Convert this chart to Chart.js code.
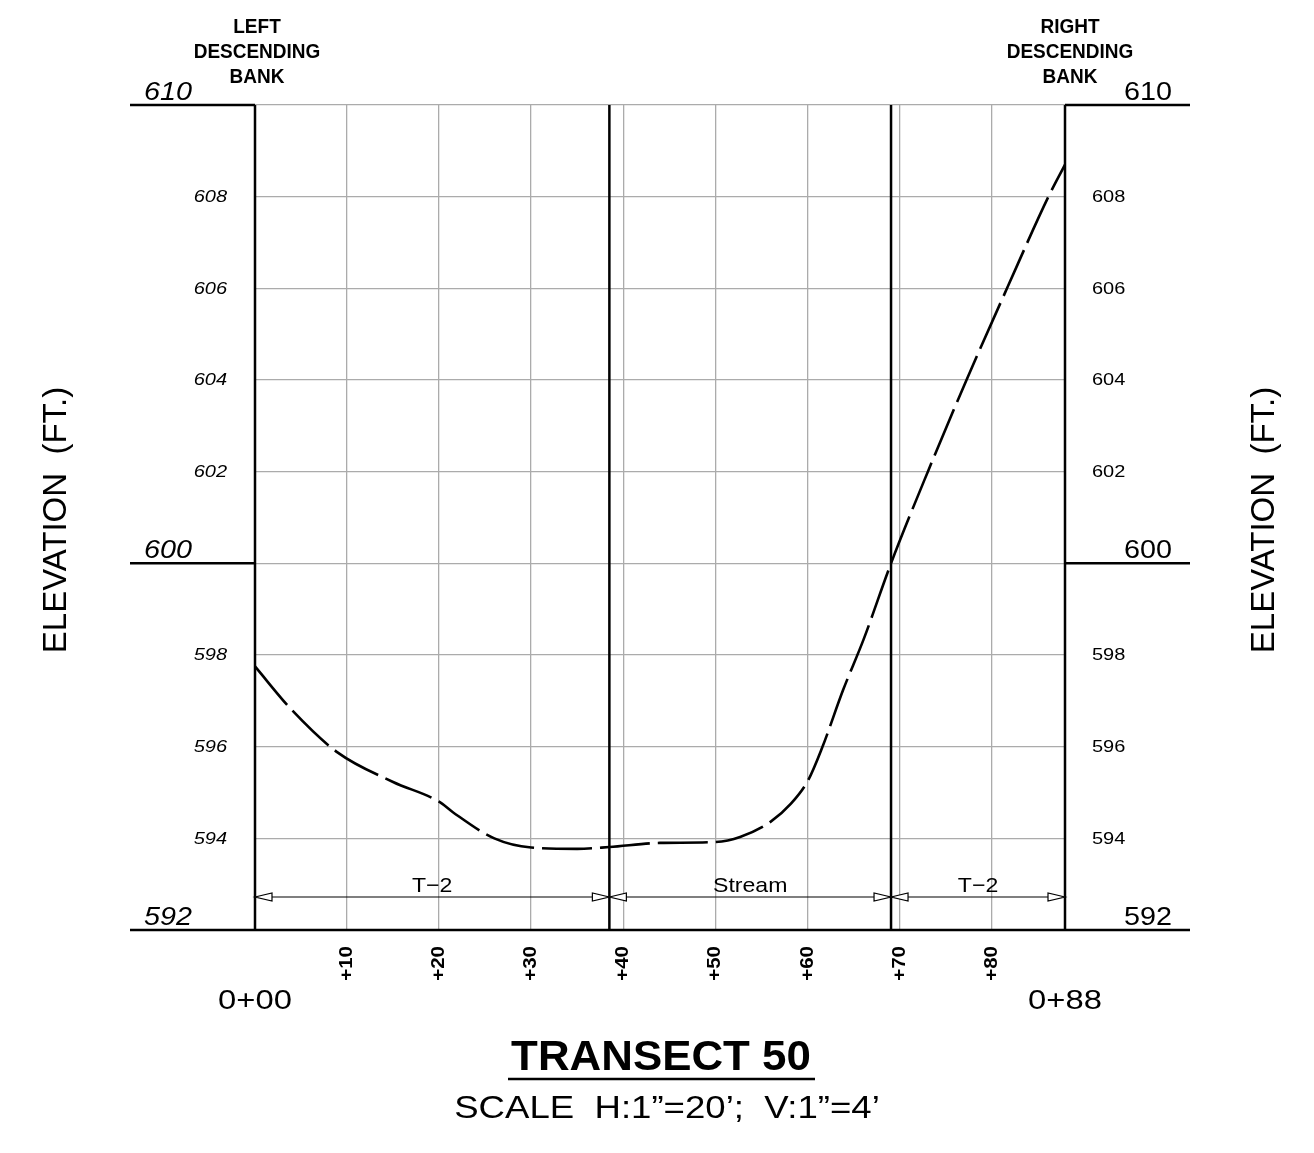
<!DOCTYPE html>
<html>
<head>
<meta charset="utf-8">
<script src="https://cdn.jsdelivr.net/npm/chart.js@4.4.0/dist/chart.umd.min.js"></script>
<style>
  html, body { margin: 0; padding: 0; background: #fff; }
  #wrap { width: 1314px; height: 1153px; }
</style>
</head>
<body>
<div id="wrap"><canvas id="transect" width="1314" height="1153"></canvas></div>
<script>
// Ground profile: station (ft from left bank pin) and elevation (ft)
const stations   = [0, 4, 9, 15, 20, 21.5, 26, 30, 35, 38.5, 44, 50, 52.7, 56, 58.2, 60.1, 61.6, 63.9, 66.1, 69.1, 73.1, 77.3, 81.7, 86.2, 88];
const elevations = [597.75, 596.8, 595.87, 595.23, 594.8, 594.57, 594.0, 593.8, 593.77, 593.81, 593.9, 593.92, 594.03, 594.36, 594.75, 595.27, 595.97, 597.24, 598.33, 600.0, 602.0, 604.0, 606.0, 608.0, 608.7];

// Axes
const xGridTicks = [10, 20, 30, 40, 50, 60, 70, 80];
const xTickLabels = ['+10', '+20', '+30', '+40', '+50', '+60', '+70', '+80'];
const yGridTicks = [594, 596, 598, 600, 602, 604, 606, 608, 610];
const ySmallTicks = [594, 596, 598, 602, 604, 606, 608];
const yMajorTicks = [610, 600, 592];
const endStations = [0, 88];
const endLabels = ['0+00', '0+88'];

// Bank markers and zones
const bankStations = [38.5, 69.1];
const zoneBounds = [0, 38.5, 69.1, 88];
const zoneLabels = ['T\u22122', 'Stream', 'T\u22122'];
const zoneElev = 592.72;

const FONT = '"Liberation Sans", Arial, sans-serif';

// draw text with a horizontal stretch (CAD fonts run wider)
function txt(ctx, str, x, y, font, align, sx, rot) {
  ctx.save();
  ctx.translate(x, y);
  if (rot) ctx.rotate(rot);
  ctx.scale(sx || 1, 1);
  ctx.font = font;
  ctx.textAlign = align;
  ctx.fillText(str, 0, 0);
  ctx.restore();
}

function hline(ctx, x1, x2, y, w) {
  ctx.beginPath();
  ctx.lineWidth = w;
  ctx.moveTo(x1, y);
  ctx.lineTo(x2, y);
  ctx.stroke();
}

function vline(ctx, x, y1, y2, w) {
  ctx.beginPath();
  ctx.lineWidth = w;
  ctx.moveTo(x, y1);
  ctx.lineTo(x, y2);
  ctx.stroke();
}

function arrow(ctx, tipX, y, dir) {
  ctx.beginPath();
  ctx.moveTo(tipX, y);
  ctx.lineTo(tipX + dir * 17, y - 4);
  ctx.lineTo(tipX + dir * 17, y + 4);
  ctx.closePath();
  ctx.fillStyle = '#fff';
  ctx.fill();
  ctx.lineWidth = 1.2;
  ctx.stroke();
}

const sheetPlugin = {
  id: 'sheet',
  afterDraw(chart) {
    const ctx = chart.ctx;
    const xs = chart.scales.x, ys = chart.scales.y;
    const a = chart.chartArea;
    ctx.save();
    ctx.strokeStyle = '#000';
    ctx.fillStyle = '#000';
    ctx.textBaseline = 'alphabetic';

    // frame and bank lines
    endStations.concat(bankStations).forEach(s => vline(ctx, xs.getPixelForValue(s), a.top, a.bottom, 2.5));
    yMajorTicks.forEach(v => {
      const y = ys.getPixelForValue(v);
      if (v === 592) {
        hline(ctx, a.left - 125, a.right + 125, y, 2.5);
      } else {
        hline(ctx, a.left - 125, a.left, y, 2.5);
        hline(ctx, a.right, a.right + 125, y, 2.5);
      }
      txt(ctx, String(v), a.left - 87, y - 5, 'italic 25px ' + FONT, 'center', 1.15);
      txt(ctx, String(v), a.right + 83, y - 5, '25px ' + FONT, 'center', 1.15);
    });

    // small elevation labels
    ctx.textBaseline = 'middle';
    ySmallTicks.forEach(v => {
      const y = ys.getPixelForValue(v) + 1;
      txt(ctx, String(v), a.left - 28, y, 'italic 16px ' + FONT, 'right', 1.25);
      txt(ctx, String(v), a.right + 27, y, '16px ' + FONT, 'left', 1.25);
    });

    // station ticks, rotated
    xGridTicks.forEach((v, i) => {
      txt(ctx, xTickLabels[i], xs.getPixelForValue(v), a.bottom + 16, 'bold 19px ' + FONT, 'right', 1.08, -Math.PI / 2);
    });
    ctx.textBaseline = 'alphabetic';
    endStations.forEach((v, i) => {
      txt(ctx, endLabels[i], xs.getPixelForValue(v), a.bottom + 79, '28px ' + FONT, 'center', 1.17);
    });

    // zone dimension line
    const dy = ys.getPixelForValue(zoneElev);
    ctx.strokeStyle = '#000';
    hline(ctx, xs.getPixelForValue(zoneBounds[0]), xs.getPixelForValue(zoneBounds[zoneBounds.length - 1]), dy, 1.2);
    zoneLabels.forEach((lab, i) => {
      const x1 = xs.getPixelForValue(zoneBounds[i]);
      const x2 = xs.getPixelForValue(zoneBounds[i + 1]);
      arrow(ctx, x1, dy, 1);
      arrow(ctx, x2, dy, -1);
      ctx.fillStyle = '#000';
      txt(ctx, lab, (x1 + x2) / 2, dy - 5, '21px ' + FONT, 'center', 1.1);
    });

    // bank headings
    const bank = [['LEFT', 'DESCENDING', 'BANK'], ['RIGHT', 'DESCENDING', 'BANK']];
    [a.left + 2, a.right + 5].forEach((cx, k) => {
      bank[k].forEach((line, j) => {
        txt(ctx, line, cx, 33 + j * 25, 'bold 20px ' + FONT, 'center', 0.95);
      });
    });

    // axis titles
    ctx.textBaseline = 'middle';
    txt(ctx, 'ELEVATION  (FT.)', 57, 520, '33px ' + FONT, 'center', 1.0, -Math.PI / 2);
    txt(ctx, 'ELEVATION  (FT.)', 1265, 520, '33px ' + FONT, 'center', 1.0, -Math.PI / 2);

    // title block
    ctx.textBaseline = 'alphabetic';
    txt(ctx, 'TRANSECT 50', 661, 1070, 'bold 43px ' + FONT, 'center', 1.02);
    hline(ctx, 508, 815, 1079, 2.5);
    txt(ctx, 'SCALE  H:1\u201D=20\u2019;  V:1\u201D=4\u2019', 667, 1118, '31px ' + FONT, 'center', 1.18);
    ctx.restore();
  }
};

new Chart(document.getElementById('transect').getContext('2d'), {
  type: 'line',
  data: {
    datasets: [{
      data: stations.map((s, i) => ({ x: s, y: elevations[i] })),
      borderColor: '#000',
      borderWidth: 2.6,
      borderDash: [50, 8],
      pointRadius: 0,
      cubicInterpolationMode: 'monotone',
      fill: false
    }]
  },
  options: {
    responsive: false,
    animation: false,
    events: [],
    layout: { padding: { left: 255, right: 249, top: 105, bottom: 223 } },
    plugins: { legend: { display: false }, tooltip: { enabled: false } },
    scales: {
      x: {
        type: 'linear', min: 0, max: 88,
        afterBuildTicks: s => { s.ticks = xGridTicks.map(v => ({ value: v })); },
        afterFit: s => { s.height = 0; },
        grid: { color: '#ababab', lineWidth: 1.3, drawTicks: false },
        border: { display: false },
        ticks: { display: false }
      },
      y: {
        type: 'linear', min: 592, max: 610,
        afterBuildTicks: s => { s.ticks = yGridTicks.map(v => ({ value: v })); },
        afterFit: s => { s.width = 0; },
        grid: { color: '#ababab', lineWidth: 1.3, drawTicks: false },
        border: { display: false },
        ticks: { display: false }
      }
    }
  },
  plugins: [sheetPlugin]
});
</script>
</body>
</html>
